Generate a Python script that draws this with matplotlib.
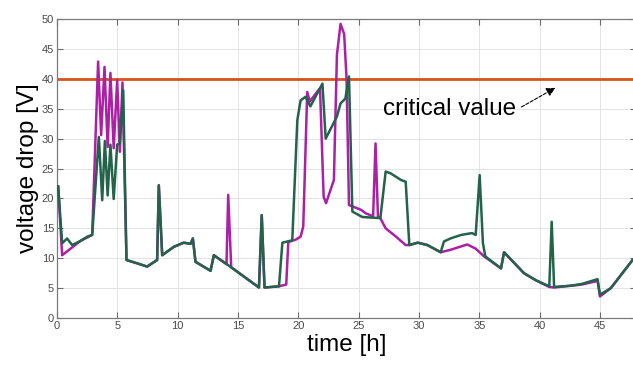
import matplotlib
matplotlib.use("Agg")
import matplotlib.pyplot as plt

# green trace (drawn on top)
t_green = [0.1, 0.43, 0.84, 1.26, 1.95, 2.5, 2.92, 3.47, 3.75, 3.97, 4.2, 4.43, 4.7, 4.99,
           5.2, 5.49, 5.76, 6.64, 7.47, 8.3, 8.44, 8.72, 9.68, 10.5, 11.07, 11.26, 11.48,
           12.73, 13.0, 13.97, 16.74, 16.97, 17.2, 18.4, 18.68, 19.5, 19.92, 20.19, 20.6,
           21.0, 22.0, 22.27, 23.2, 23.5, 23.9, 24.2, 24.48, 25.3, 26.8, 27.24, 27.65,
           28.5, 28.9, 29.2, 29.9, 30.7, 31.8, 32.07, 32.6, 33.5, 34.4, 34.7, 35.03, 35.3,
           35.5, 36.8, 37.05, 38.7, 39.7, 40.8, 41.0, 41.2, 42.6, 43.5, 44.8, 45.0, 45.9,
           47.7]
v_green = [22.0, 12.5, 13.3, 12.2, 12.9, 13.6, 13.9, 30.3, 19.7, 29.6, 20.5, 29.0, 19.9, 29.0,
           29.2, 38.1, 9.7, 9.15, 8.6, 9.7, 22.2, 10.5, 11.9, 12.6, 12.4, 13.3, 9.4,
           7.9, 10.5, 9.15, 5.1, 17.2, 5.1, 5.3, 12.6, 13.0, 33.1, 36.4, 37.0,
           35.4, 39.2, 30.0, 33.7, 35.9, 36.7, 40.4, 17.8, 16.9, 16.7, 24.5, 24.2,
           23.1, 22.8, 12.2, 12.6, 12.2, 11.0, 12.8, 13.3, 13.9, 14.2, 13.9, 23.9, 12.5,
           10.3, 8.3, 11.0, 7.5, 6.3, 5.3, 16.1, 5.2, 5.4, 5.7, 6.5, 3.9, 5.0,
           9.7]

# magenta trace
t_magenta = [0.1, 0.43, 1.95, 2.92, 3.41, 3.66, 3.94, 4.2, 4.43, 4.7, 4.99, 5.21, 5.43, 5.76,
             6.64, 7.47, 8.3, 8.44, 8.72, 9.68, 10.5, 11.07, 11.26, 11.48, 12.73, 13.0,
             14.05, 14.19, 14.44, 16.74, 16.97, 17.2, 18.4, 19.0, 19.17, 19.78, 20.19,
             20.41, 20.74, 20.95, 21.7, 21.8, 22.1, 22.3, 22.95, 23.2, 23.5, 23.8, 24.0,
             24.2, 25.2, 25.6, 26.2, 26.4, 26.6, 26.8, 27.24, 28.1, 28.9, 29.2, 29.9, 30.7,
             31.8, 32.6, 34.0, 34.7, 35.4, 36.8, 37.05, 38.7, 39.7, 40.8, 41.2, 43.5, 44.8,
             45.0, 45.9, 47.7]
v_magenta = [22.0, 10.5, 12.9, 13.9, 42.9, 30.6, 42.0, 28.6, 41.0, 28.4, 39.8, 27.8, 39.4, 9.7,
             9.15, 8.6, 9.7, 22.2, 10.5, 11.9, 12.6, 12.4, 13.3, 9.4, 7.9, 10.5,
             9.0, 20.6, 8.5, 5.1, 17.2, 5.1, 5.3, 5.6, 12.7, 13.1, 13.6,
             15.3, 37.8, 36.2, 38.2, 38.4, 20.3, 19.2, 23.1, 44.0, 49.2, 47.5, 40.0,
             18.9, 18.1, 17.5, 17.0, 29.2, 17.0, 16.7, 15.0, 13.6, 12.2, 12.2, 12.6, 12.2,
             11.0, 11.4, 12.3, 11.6, 10.3, 8.3, 11.0, 7.5, 6.3, 5.2, 5.1, 5.6, 6.2,
             3.6, 5.0, 9.7]

t_limit = [0, 48]
v_limit = [40, 40]

fig = plt.figure(figsize=(6.33, 3.67), dpi=100)
ax = fig.add_axes([0.090, 0.1335, 0.915, 0.8145])
plt.rcParams['font.family'] = ['Liberation Sans', 'DejaVu Sans']

ax.plot(t_limit, v_limit, color="#d6541c", lw=2.0, zorder=2)
ax.plot(t_magenta, v_magenta, color="#ac1fa6", lw=1.8, zorder=3)
ax.plot(t_green, v_green, color="#22634a", lw=1.8, zorder=4)

# label + dashed arrow pointing at the limit line
ax.text(27.0, 35.0, "critical value", fontsize=17.5, family="Liberation Sans",
        ha="left", va="center")
ax.annotate("", xy=(41.3, 38.5), xytext=(38.5, 35.3),
            arrowprops=dict(arrowstyle="-|>", color="black", lw=0.8, ls=(0, (3, 1.5)),
                            mutation_scale=13, shrinkA=0, shrinkB=0))

ax.set_xlim(0, 48)
ax.set_ylim(0, 50)
ax.set_xticks(range(0, 50, 5))
ax.set_yticks(range(0, 55, 5))
ax.grid(color="#e3e3e3", lw=0.7)
ax.set_axisbelow(True)
ax.tick_params(direction="in", top=True, right=True, length=4, width=0.8,
               color="#6b6b6b", labelcolor="#4a4a4a", labelsize=8, pad=2)
for lab in ax.get_xticklabels() + ax.get_yticklabels():
    lab.set_family("Liberation Sans")
for s in ax.spines.values():
    s.set_color("#7a7a7a")
    s.set_linewidth(0.9)

ax.set_xlabel("time [h]", fontsize=17.5, family="Liberation Sans", labelpad=2)
ax.set_ylabel("voltage drop [V]", fontsize=17.5, family="Liberation Sans", labelpad=2)

fig.savefig("out.png", dpi=100)
